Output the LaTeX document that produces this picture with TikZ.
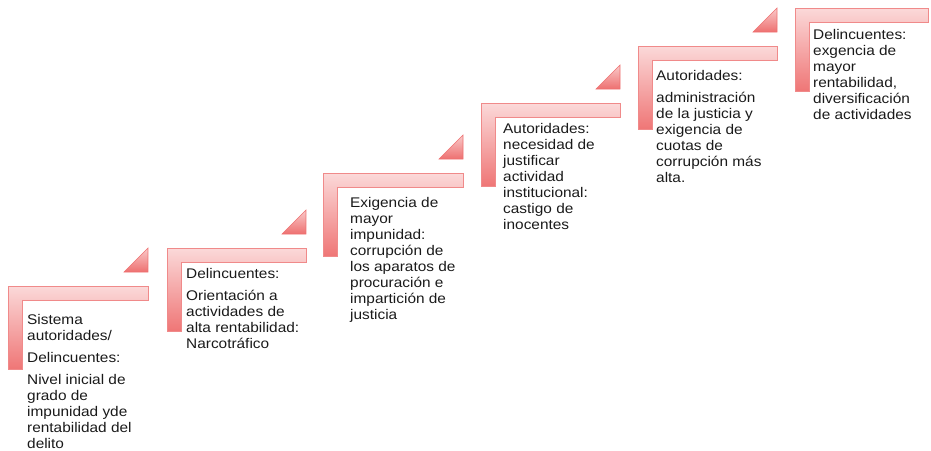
\documentclass[tikz,border=0pt]{standalone}
\usepackage{fontspec}
\setmainfont{Liberation Sans}[FakeStretch=1.1]
\definecolor{barlight}{HTML}{FBD9D9}
\definecolor{bardark}{HTML}{EF7676}
\definecolor{baredge}{HTML}{F08A8A}
\definecolor{trilight}{HTML}{F9CACA}
\definecolor{tridark}{HTML}{EE7070}
\definecolor{txt}{HTML}{1A1A1A}
\tikzset{
  lshape/.style={top color=barlight, bottom color=bardark, draw=baredge, line width=0.6pt, line join=miter},
  trishape/.style={top color=trilight, bottom color=tridark, draw=tridark, line width=0.6pt},
  steptext/.style={anchor=north west, inner sep=0pt, align=left, text=txt,
    font=\fontsize{14}{16}\selectfont}
}
% #1 left x, #2 top y, #3 right x
\newcommand\stepLshape[3]{%
  \path[lshape] (#1,#2) -- (#3,#2) -- (#3,#2+14) -- (#1+14,#2+14) -- (#1+14,#2+83) -- (#1,#2+83) -- cycle;}
\newcommand\stepTri[2]{%
  \path[trishape] (#1-24,#2-14) -- (#1,#2-38) -- (#1,#2-14) -- cycle;}
\begin{document}
\begin{tikzpicture}[x=1pt,y=-1pt]
\useasboundingbox (0,0) rectangle (931,450);
\stepLshape{8}{286}{148}   \stepTri{148}{286}
\stepLshape{167}{248}{306} \stepTri{306}{248}
\stepLshape{323}{173}{463} \stepTri{463}{173}
\stepLshape{481}{103}{620} \stepTri{620}{103}
\stepLshape{638}{46}{777}  \stepTri{777}{46}
\stepLshape{795}{8}{928}

\node[steptext] (t1) at (27,314) {Sistema\\autoridades/\\[6pt]Delincuentes:\\[6pt]Nivel inicial de\\grado de\\impunidad yde\\rentabilidad del\\delito};
\node[steptext] (t2) at (186,268) {Delincuentes:\\[6pt]Orientación a\\actividades de\\alta rentabilidad:\\Narcotráfico};
\node[steptext] (t3) at (350,197) {Exigencia de\\mayor\\impunidad:\\corrupción de\\los aparatos de\\procuración e\\impartición de\\justicia};
\node[steptext] (t4) at (503,123) {Autoridades:\\necesidad de\\justificar\\actividad\\institucional:\\castigo de\\inocentes};
\node[steptext] (t5) at (656,70) {Autoridades:\\[6pt]administración\\de la justicia y\\exigencia de\\cuotas de\\corrupción más\\alta.};
\node[steptext] (t6) at (813,29) {Delincuentes:\\exgencia de\\mayor\\rentabilidad,\\diversificación\\de actividades};
\end{tikzpicture}
\end{document}
